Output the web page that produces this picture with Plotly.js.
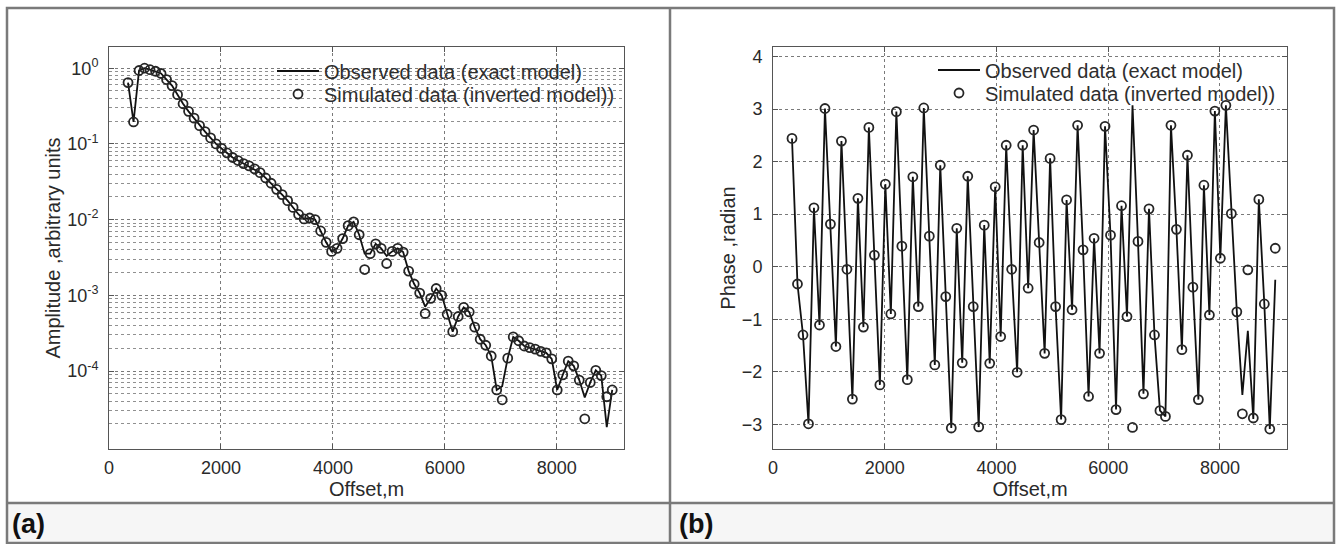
<!DOCTYPE html>
<html>
<head>
<meta charset="utf-8">
<script src="https://cdn.plot.ly/plotly-3.0.1.min.js"></script>
<style>
  html, body { margin: 0; padding: 0; background: #ffffff; }
  #chart { width: 1341px; height: 544px; }
</style>
</head>
<body>
<div id="chart"></div>
<script>
// Receiver offsets (m)
const offsets = [340, 438, 537, 635, 733, 832, 930, 1028, 1126, 1225,
  1323, 1421, 1520, 1618, 1716, 1815, 1913, 2011, 2109, 2208,
  2306, 2404, 2503, 2601, 2699, 2798, 2896, 2994, 3092, 3191,
  3289, 3387, 3486, 3584, 3682, 3781, 3879, 3977, 4075, 4174,
  4272, 4370, 4469, 4567, 4665, 4764, 4862, 4960, 5058, 5157,
  5255, 5353, 5452, 5550, 5648, 5747, 5845, 5943, 6041, 6140,
  6238, 6336, 6435, 6533, 6631, 6730, 6828, 6926, 7024, 7123,
  7221, 7319, 7418, 7516, 7614, 7713, 7811, 7909, 8007, 8106,
  8204, 8302, 8401, 8499, 8597, 8696, 8794, 8892, 8990];

// Amplitude, arbitrary units (exact model)
const ampObserved = [0.646, 0.195, 0.933, 1.0, 0.955, 0.912, 0.851, 0.708, 0.589, 0.447,
  0.339, 0.269, 0.219, 0.174, 0.145, 0.120, 0.100, 0.0871, 0.0759, 0.0661,
  0.0603, 0.0550, 0.0513, 0.0468, 0.0417, 0.0355, 0.0302, 0.0251, 0.0214, 0.0178,
  0.0145, 0.0117, 0.0102, 0.0105, 0.0100, 0.00708, 0.00501, 0.00380, 0.00417, 0.00562,
  0.00832, 0.00933, 0.00631, 0.00355, 0.00355, 0.00479, 0.00417, 0.00331, 0.00380, 0.00417,
  0.00372, 0.00209, 0.00141, 0.00107, 0.000708, 0.000912, 0.00123, 0.00100, 0.000562, 0.000331,
  0.000525, 0.000692, 0.000603, 0.000380, 0.000263, 0.000219, 0.000158, 0.0000562, 0.0000631, 0.000148,
  0.000282, 0.000251, 0.000214, 0.000204, 0.000195, 0.000182, 0.000174, 0.000145, 0.0000562, 0.0000891,
  0.000135, 0.000117, 0.0000759, 0.0000447, 0.0000708, 0.000102, 0.0000871, 0.0000182, 0.0000562];

// Amplitude, arbitrary units (inverted model)
const ampSimulated = [0.646, 0.195, 0.933, 1.0, 0.955, 0.912, 0.851, 0.708, 0.589, 0.447,
  0.339, 0.269, 0.219, 0.174, 0.145, 0.120, 0.100, 0.0871, 0.0759, 0.0661,
  0.0603, 0.0550, 0.0513, 0.0468, 0.0417, 0.0355, 0.0302, 0.0251, 0.0214, 0.0178,
  0.0145, 0.0117, 0.0102, 0.0105, 0.0100, 0.00708, 0.00501, 0.00380, 0.00417, 0.00562,
  0.00832, 0.00933, 0.00631, 0.00219, 0.00355, 0.00479, 0.00417, 0.00263, 0.00380, 0.00417,
  0.00372, 0.00209, 0.00141, 0.00107, 0.000575, 0.000912, 0.00123, 0.00100, 0.000562, 0.000331,
  0.000525, 0.000692, 0.000603, 0.000380, 0.000263, 0.000219, 0.000158, 0.0000562, 0.0000417, 0.000148,
  0.000282, 0.000251, 0.000214, 0.000204, 0.000195, 0.000182, 0.000174, 0.000145, 0.0000562, 0.0000891,
  0.000135, 0.000117, 0.0000759, 0.0000234, 0.0000708, 0.000102, 0.0000871, 0.0000457, 0.0000562];

// Phase, radian (exact model)
const phaseObserved = [2.44, -0.33, -1.30, -2.99, 1.12, -1.11, 3.01, 0.81, -1.52, 2.39,
  -0.05, -2.52, 1.30, -1.15, 2.65, 0.22, -2.25, 1.57, -0.90, 2.95,
  0.39, -2.15, 1.71, -0.76, 3.02, 0.58, -1.87, 1.93, -0.57, -3.07,
  0.73, -1.83, 1.72, -0.76, -3.05, 0.79, -1.84, 1.52, -1.33, 2.31,
  -0.05, -2.01, 2.31, -0.41, 2.60, 0.46, -1.65, 2.06, -0.76, -2.91,
  1.27, -0.82, 2.69, 0.32, -2.47, 0.54, -1.65, 2.67, 0.60, -2.72,
  1.16, -0.95, 3.07, 0.48, -2.42, 1.10, -1.30, -2.74, -2.85, 2.69,
  0.71, -1.58, 2.12, -0.39, -2.53, 1.55, -0.92, 2.96, 0.16, 3.07,
  1.01, -0.86, -2.44, -1.22, -2.90, 1.28, -0.71, -3.09, -0.25];

// Phase, radian (inverted model)
const phaseSimulated = [2.44, -0.33, -1.30, -2.99, 1.12, -1.11, 3.01, 0.81, -1.52, 2.39,
  -0.05, -2.52, 1.30, -1.15, 2.65, 0.22, -2.25, 1.57, -0.90, 2.95,
  0.39, -2.15, 1.71, -0.76, 3.02, 0.58, -1.87, 1.93, -0.57, -3.07,
  0.73, -1.83, 1.72, -0.76, -3.05, 0.79, -1.84, 1.52, -1.33, 2.31,
  -0.05, -2.01, 2.31, -0.41, 2.60, 0.46, -1.65, 2.06, -0.76, -2.91,
  1.27, -0.82, 2.69, 0.32, -2.47, 0.54, -1.65, 2.67, 0.60, -2.72,
  1.16, -0.95, -3.06, 0.48, -2.42, 1.10, -1.30, -2.74, -2.85, 2.69,
  0.71, -1.58, 2.12, -0.39, -2.53, 1.55, -0.92, 2.96, 0.16, 3.07,
  1.01, -0.86, -2.80, -0.06, -2.88, 1.28, -0.71, -3.09, 0.35];

const xTicks = [0, 2000, 4000, 6000, 8000];
const ampTickVals = [1e-4, 1e-3, 1e-2, 1e-1, 1];
const ampTickText = ['10<sup>-4</sup>', '10<sup>-3</sup>', '10<sup>-2</sup>', '10<sup>-1</sup>', '10<sup>0</sup>'];
const phaseTicks = [-3, -2, -1, 0, 1, 2, 3, 4];

const seriesNames = ['Observed data (exact model)', 'Simulated data (inverted model))'];
const panelLabels = ['(a)', '(b)'];

const FONT = 'Liberation Sans, Arial, Helvetica, sans-serif';
const W = 1341, H = 544;
const px = v => v / W;
const py = v => 1 - v / H;

// minor log grid positions (2..9 per decade)
const minorVals = [];
for (let e = -5; e <= 0; e++) {
  for (let m = 2; m <= 9; m++) minorVals.push(m * Math.pow(10, e));
}

const lineStyle = { color: '#111111', width: 1.8 };
const markerStyle = { symbol: 'circle-open', size: 9, color: '#262626', line: { width: 1.8, color: '#262626' } };

const traces = [
  { x: offsets, y: ampObserved, type: 'scatter', mode: 'lines', name: seriesNames[0],
    line: lineStyle, xaxis: 'x', yaxis: 'y', legend: 'legend' },
  { x: offsets, y: ampSimulated, type: 'scatter', mode: 'markers', name: seriesNames[1],
    marker: markerStyle, xaxis: 'x', yaxis: 'y', legend: 'legend3' },
  { x: offsets, y: phaseObserved, type: 'scatter', mode: 'lines', name: seriesNames[0],
    line: lineStyle, xaxis: 'x2', yaxis: 'y2', legend: 'legend2' },
  { x: offsets, y: phaseSimulated, type: 'scatter', mode: 'markers', name: seriesNames[1],
    marker: markerStyle, xaxis: 'x2', yaxis: 'y2', legend: 'legend4' }
];

const gridDot = { showgrid: true, gridcolor: '#7a7a7a', griddash: 'dot', gridwidth: 1 };
const axisBase = {
  showline: true, linecolor: '#555', linewidth: 1, mirror: 'ticks',
  ticks: 'inside', ticklen: 5, tickcolor: '#555', zeroline: false,
  tickfont: { family: FONT, size: 18, color: '#2a2a2a' }
};
const titleFont = { family: FONT, size: 20, color: '#2a2a2a' };
const legendFont = { family: FONT, size: 20, color: '#2e2e2e' };

const yDomain = [py(449), py(47)];

function legendAt(xPix, yPix) {
  return {
    x: px(xPix), y: py(yPix), xanchor: 'left', yanchor: 'middle',
    bgcolor: 'rgba(0,0,0,0)', borderwidth: 0, itemwidth: 42,
    font: legendFont
  };
}

const layout = {
  width: W, height: H,
  margin: { l: 0, r: 0, t: 0, b: 0 },
  paper_bgcolor: '#ffffff',
  plot_bgcolor: 'rgba(0,0,0,0)',
  font: { family: FONT, color: '#2a2a2a' },
  showlegend: true,
  xaxis: Object.assign({}, axisBase, gridDot, {
    domain: [px(109), px(624)], range: [0, 9200], tickvals: xTicks,
    anchor: 'y', ticklabelstandoff: 2,
    title: { text: 'Offset,m', font: titleFont, standoff: 2 }
  }),
  yaxis: Object.assign({}, axisBase, gridDot, {
    domain: yDomain, type: 'log', range: [-5.03, 0.28],
    tickvals: ampTickVals, ticktext: ampTickText, anchor: 'x', ticklabelstandoff: 6,
    minor: { tickvals: minorVals, showgrid: true, gridcolor: '#909090', griddash: 'dot', gridwidth: 1, ticks: '' },
    title: { text: 'Amplitude ,arbitrary units', font: titleFont, standoff: 1 }
  }),
  xaxis2: Object.assign({}, axisBase, gridDot, {
    domain: [px(773), px(1287)], range: [0, 9200], tickvals: xTicks,
    anchor: 'y2', ticklabelstandoff: 2,
    title: { text: 'Offset,m', font: titleFont, standoff: 2 }
  }),
  yaxis2: Object.assign({}, axisBase, gridDot, {
    domain: yDomain, range: [-3.47, 4.18], tickvals: phaseTicks, anchor: 'x2', ticklabelstandoff: 6,
    title: { text: 'Phase ,radian', font: titleFont, standoff: 0 }
  }),
  legend: legendAt(272, 71),
  legend3: legendAt(272, 94),
  legend2: legendAt(933, 70),
  legend4: legendAt(933, 93),
  shapes: [
    { type: 'rect', xref: 'paper', yref: 'paper', x0: px(7), x1: px(1334), y0: py(543), y1: py(503),
      fillcolor: '#f6f6f6', line: { width: 0 }, layer: 'below' },
    { type: 'rect', xref: 'paper', yref: 'paper', x0: px(7), x1: px(1334), y0: py(543), y1: py(8),
      line: { color: '#7a7a7a', width: 2.5 } },
    { type: 'line', xref: 'paper', yref: 'paper', x0: px(670), x1: px(670), y0: py(543), y1: py(8),
      line: { color: '#7a7a7a', width: 2.5 } },
    { type: 'line', xref: 'paper', yref: 'paper', x0: px(7), x1: px(1334), y0: py(503), y1: py(503),
      line: { color: '#7a7a7a', width: 2.5 } }
  ],
  annotations: [
    { text: '<b>' + panelLabels[0] + '</b>', xref: 'paper', yref: 'paper', x: px(10), y: py(524),
      xanchor: 'left', yanchor: 'middle', showarrow: false, font: { family: FONT, size: 27, color: '#111' } },
    { text: '<b>' + panelLabels[1] + '</b>', xref: 'paper', yref: 'paper', x: px(677), y: py(524),
      xanchor: 'left', yanchor: 'middle', showarrow: false, font: { family: FONT, size: 27, color: '#111' } }
  ]
};

Plotly.newPlot('chart', traces, layout, { staticPlot: true, displayModeBar: false });
</script>
</body>
</html>
